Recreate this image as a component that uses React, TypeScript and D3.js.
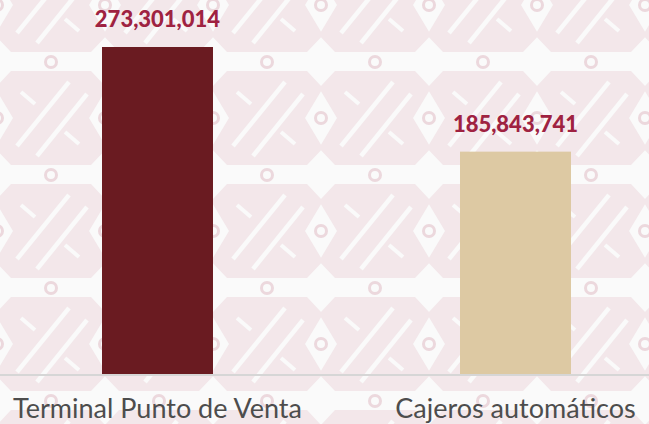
import React from 'react';
import * as d3 from 'd3';

const categories = ['Terminal Punto de Venta', 'Cajeros automáticos'];
const values = [273301014, 185843741];
const barColors = ['#6a1b21', '#ddc9a3'];

const W = 649;
const H = 424;
const baseY = 374;

const pink = '#f3e7ea';
const bg = '#fafafa';
const ring = '#ecd8dd';

// one tile of the background motif
const Tile = () => {
  const cx = 54;
  const cy = 56;
  const blob = [
    [-40, -47], [40, -47], [56, -30], [38, 0], [56, 30], [40, 47],
    [-40, 47], [-56, 30], [-38, 0], [-56, -30],
  ];
  const pts = (dx: number) =>
    blob.map(([x, y]) => `${cx + dx + x},${cy + y}`).join(' ');
  return (
    <g>
      {[0, 108, -108].map(dx => (
        <g key={dx}>
          <polygon points={pts(dx)} fill={pink} />
          <line x1={cx + dx - 34} y1={cy + 28} x2={cx + dx + 18} y2={cy - 36} stroke={bg} strokeWidth={4.5} />
          <line x1={cx + dx - 14} y1={cy + 38} x2={cx + dx + 36} y2={cy - 24} stroke={bg} strokeWidth={4.5} />
          <line x1={cx + dx - 30} y1={cy - 26} x2={cx + dx - 16} y2={cy - 14} stroke={bg} strokeWidth={4} />
          <line x1={cx + dx + 14} y1={cy + 14} x2={cx + dx + 28} y2={cy + 26} stroke={bg} strokeWidth={4} />
        </g>
      ))}
      <circle cx={cx} cy={cy - 56} r={5.5} fill="none" stroke={ring} strokeWidth={3} />
      <circle cx={cx} cy={cy + 57} r={5.5} fill="none" stroke={ring} strokeWidth={3} />
      <circle cx={0} cy={cy} r={5.5} fill="none" stroke={ring} strokeWidth={3} />
      <circle cx={108} cy={cy} r={5.5} fill="none" stroke={ring} strokeWidth={3} />
    </g>
  );
};

const App = () => {
  const x = d3.scaleBand<string>()
    .domain(categories)
    .range([12, 661])
    .paddingInner(0.69)
    .paddingOuter(0.2514);

  const y = d3.scaleLinear()
    .domain([0, d3.max(values) as number])
    .range([baseY, 47]);

  const fmt = d3.format(',');

  return (
    <div>
      <style>{`body{margin:0}`}</style>
      <svg width={W} height={H} style={{ display: 'block' }}>
        <defs>
          <pattern id="motif" x={213} y={-51} width={108} height={113} patternUnits="userSpaceOnUse">
            <rect width={108} height={113} fill={bg} />
            <Tile />
          </pattern>
        </defs>
        <rect width={W} height={H} fill="url(#motif)" />

        {categories.map((c, i) => (
          <g key={c}>
            <rect
              x={x(c)}
              y={y(values[i])}
              width={x.bandwidth()}
              height={baseY - y(values[i])}
              fill={barColors[i]}
            />
            <text
              x={(x(c) as number) + x.bandwidth() / 2}
              y={y(values[i]) - 20}
              textAnchor="middle"
              fontFamily="Lato"
              fontWeight="900"
              fontSize={22}
              fill="#9f2241"
            >
              {fmt(values[i])}
            </text>
            <text
              x={(x(c) as number) + x.bandwidth() / 2}
              y={418}
              textAnchor="middle"
              fontFamily="Lato"
              fontSize={27}
              fill="#4d4d4d"
            >
              {c}
            </text>
          </g>
        ))}

        <line x1={0} x2={W} y1={baseY + 1} y2={baseY + 1} stroke="#d6d6d6" strokeWidth={2} />
      </svg>
    </div>
  );
};

export default App;
